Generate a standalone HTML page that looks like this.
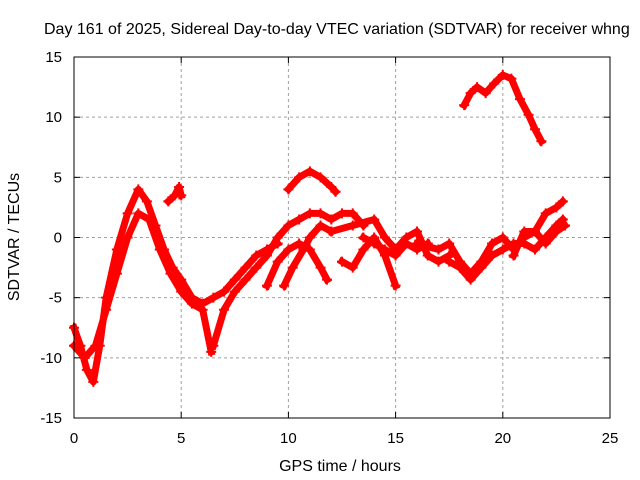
<!DOCTYPE html>
<html><head><meta charset="utf-8"><style>
body{margin:0;background:#fff}
svg{display:block;font-family:"Liberation Sans",sans-serif;font-size:15px}
</style></head><body>
<svg id="chart" width="640" height="480">
<rect width="640" height="480" fill="#fff"/>
<text x="44" y="34" font-size="16">Day 161 of 2025, Sidereal Day-to-day VTEC variation (SDTVAR) for receiver whng</text>
<g id="grid"></g>
<g id="series"></g>
<rect x="74" y="57" width="536" height="361" fill="none" stroke="#000"/>
<g id="ticks"></g>
<text x="340" y="471" text-anchor="middle" font-size="16">GPS time / hours</text>
<text transform="translate(19,237) rotate(-90)" text-anchor="middle" font-size="16">SDTVAR / TECUs</text>
</svg>
<script>
const xTicks=[0,5,10,15,20,25];
const yTicks=[-15,-10,-5,0,5,10,15];
const trackA=[[0,-7.5],[0.3,-9],[0.6,-11],[0.9,-12],[1.2,-9],[1.5,-5],[2,-1],[2.5,2],[3,4],[3.4,3],[3.8,1],[4.2,-1],[4.6,-2.5],[5,-3.5],[5.5,-5],[6,-5.5],[6.5,-5],[7,-4.5],[7.5,-3.5],[8,-2.5],[8.5,-1.5],[9,-1],[9.5,-0.5]];
const trackB=[[0,-9],[0.5,-10],[1,-9],[1.5,-6],[2,-3],[2.5,0],[3,2],[3.5,1.5],[4,-1],[4.5,-3],[5,-4.5],[5.5,-5.5],[6,-6],[6.4,-9.5]];
const trackC=[[6.5,-9],[7,-6],[7.5,-4.5],[8,-3.5],[8.5,-2.5],[9,-1.5],[9.5,0],[10,1],[10.5,1.5],[11,2],[11.5,2],[12,1.5],[12.5,2],[13,2],[13.5,1]];
const trackD=[[4.4,3],[4.7,3.5],[4.9,4.2],[5,3.5]];
const trackE=[[10,4],[10.5,5],[11,5.5],[11.5,5],[12,4.2],[12.2,3.8]];
const trackF=[[9,-4],[9.5,-2],[10,-1],[10.5,-0.5],[11,-1],[11.5,-2.5],[11.8,-3.5]];
const trackG=[[9.8,-4],[10.2,-2.5],[10.7,-1],[11,0],[11.5,1],[12,0.5]];
const trackH=[[12.5,-2],[13,-2.5],[13.5,-1],[14,0],[14.5,-1.5],[15,-4]];
const trackI=[[12,0.5],[13,1],[14,1.5],[14.5,0],[15,-1],[15.5,0],[16,0.5],[16.5,-1.5],[17,-2],[17.5,-1.5]];
const trackJ=[[16,-0.5],[17,-1],[17.5,-0.5],[18,-2],[18.5,-3],[19,-2],[19.5,-0.5],[20,0],[20.5,-1],[21,0],[21.5,0.5],[22,2],[22.5,2.5],[22.8,3]];
const trackK=[[17.5,-2],[18,-2.5],[18.5,-3.5],[19,-2.5],[19.5,-1.5],[20,-1],[20.5,-0.5],[21,-0.5],[21.5,-1],[22,0],[22.5,1],[22.8,1.5]];
const trackL=[[20.5,-1.5],[21,0.5],[21.5,0.5],[22,-0.5],[22.5,0.5],[22.9,1]];
const trackM=[[18.2,11],[18.5,12],[18.8,12.5],[19.2,12],[19.6,12.8],[20,13.5],[20.4,13.2],[20.8,11.5],[21.2,10.2],[21.5,9],[21.8,8]];
const trackN=[[13.5,0],[14,-0.5],[14.5,-1],[15,-1.5],[15.5,-0.5],[16,-1],[16.5,-0.5]];
const tracks=[trackA,trackB,trackC,trackD,trackE,trackF,trackG,trackH,trackI,trackJ,trackK,trackL,trackM,trackN];
const NS='http://www.w3.org/2000/svg';
const X0=74,X1=610,Y0=418,Y1=57;
function xs(v){return X0+(v-0)/25*(X1-X0);}
function ys(v){return Y0-(v+15)/30*(Y0-Y1);}
const grid=document.getElementById('grid'),ticks=document.getElementById('ticks'),ser=document.getElementById('series');
function mk(tag,attrs,parent){const e=document.createElementNS(NS,tag);for(const k in attrs)e.setAttribute(k,attrs[k]);parent.appendChild(e);return e;}
xTicks.forEach(t=>{
 const x=xs(t);
 if(t>0&&t<25){const g=mk('line',{x1:x,x2:x,y1:Y1,y2:Y0,stroke:'#a0a0a0','stroke-dasharray':'3,3'},grid);
 
 }
 mk('line',{x1:x,x2:x,y1:Y0,y2:Y0-6,stroke:'#000'},ticks);
 mk('line',{x1:x,x2:x,y1:Y1,y2:Y1+6,stroke:'#000'},ticks);
 const l=mk('text',{x:x,y:Y0+25,'text-anchor':'middle'},ticks);l.textContent=t;
 
 
});
yTicks.forEach(t=>{
 const y=ys(t);
 if(t>-15&&t<15){const g=mk('line',{x1:X0,x2:X1,y1:y,y2:y,stroke:'#a0a0a0','stroke-dasharray':'3,3'},grid);
 
 }
 mk('line',{x1:X0,x2:X0+6,y1:y,y2:y,stroke:'#000'},ticks);
 mk('line',{x1:X1,x2:X1-6,y1:y,y2:y,stroke:'#000'},ticks);
 const l=mk('text',{x:X0-12,y:y+5,'text-anchor':'end'},ticks);l.textContent=t;
 
 
});
tracks.forEach(tr=>{
 const p=mk('polyline',{points:tr.map(d=>xs(d[0])+','+ys(d[1])).join(' '),fill:'none',stroke:'#f00','stroke-width':7,'stroke-linejoin':'round','stroke-linecap':'square'},ser);
 
 
 tr.forEach(d=>{
  const m=mk('path',{d:`M${xs(d[0])-5},${ys(d[1])}h10M${xs(d[0])},${ys(d[1])-5}v10`,stroke:'#f00','stroke-width':2},ser);
  
  
 });
});
</script>
</body></html>
